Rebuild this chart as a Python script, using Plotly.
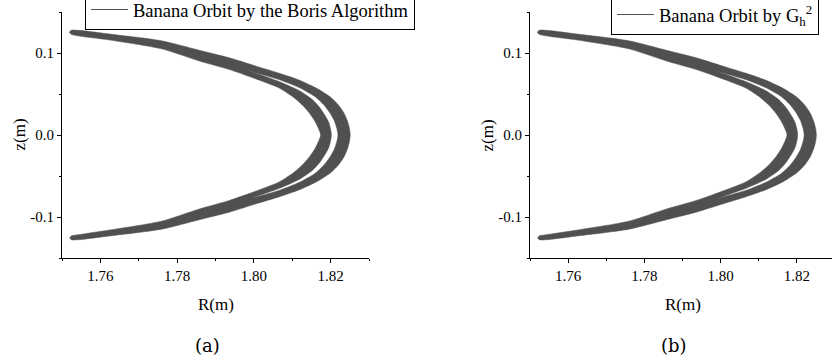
import plotly.graph_objects as go

# ---- data (R in m, z in m), ordered bottom tip -> nose -> top tip ----
TIP_R = 1.7520
TIP_Z = [-0.1252, 0.1252]

# outer band (convex side), outer edge
E1_R = [1.7524, 1.7629, 1.7759, 1.7858, 1.7936, 1.8015, 1.8067, 1.8119, 1.8166, 1.8200, 1.8221, 1.8235, 1.8244, 1.8249,
        1.8251,
        1.8249, 1.8244, 1.8235, 1.8221, 1.8200, 1.8166, 1.8119, 1.8067, 1.8015, 1.7936, 1.7858, 1.7759, 1.7629, 1.7524]
E1_Z = [-0.1277, -0.1228, -0.1149, -0.1033, -0.0941, -0.0826, -0.0752, -0.0667, -0.0563, -0.0460, -0.0362, -0.0265, -0.0167, -0.0082,
        0.0,
        0.0082, 0.0167, 0.0265, 0.0362, 0.0460, 0.0563, 0.0667, 0.0752, 0.0826, 0.0941, 0.1033, 0.1149, 0.1228, 0.1277]
# outer band, inner edge (gap side)
E2_R = [1.7524, 1.7629, 1.7759, 1.7858, 1.7936, 1.8009, 1.8067, 1.8119, 1.8158, 1.8181, 1.8197, 1.8209, 1.8216,
        1.8219,
        1.8216, 1.8209, 1.8197, 1.8181, 1.8158, 1.8119, 1.8067, 1.8009, 1.7936, 1.7858, 1.7759, 1.7629, 1.7524]
E2_Z = [-0.1246, -0.1179, -0.1082, -0.0948, -0.0850, -0.0752, -0.0673, -0.0576, -0.0472, -0.0374, -0.0277, -0.0179, -0.0082,
        0.0,
        0.0082, 0.0179, 0.0277, 0.0374, 0.0472, 0.0576, 0.0673, 0.0752, 0.0850, 0.0948, 0.1082, 0.1179, 0.1246]
# inner band, outer edge (gap side)
E3_R = [1.7524, 1.7629, 1.7759, 1.7858, 1.7936, 1.8009, 1.8067, 1.8119, 1.8153, 1.8171, 1.8185, 1.8195, 1.8200,
        1.8202,
        1.8200, 1.8195, 1.8185, 1.8171, 1.8153, 1.8119, 1.8067, 1.8009, 1.7936, 1.7858, 1.7759, 1.7629, 1.7524]
E3_Z = [-0.1265, -0.1204, -0.1112, -0.0978, -0.0874, -0.0746, -0.0649, -0.0539, -0.0429, -0.0338, -0.0240, -0.0155, -0.0070,
        0.0,
        0.0070, 0.0155, 0.0240, 0.0338, 0.0429, 0.0539, 0.0649, 0.0746, 0.0874, 0.0978, 0.1112, 0.1204, 0.1265]
# inner band, inner edge (concave side)
E4_R = [1.7524, 1.7629, 1.7759, 1.7858, 1.7936, 1.8015, 1.8067, 1.8103, 1.8127, 1.8145, 1.8159, 1.8168,
        1.8174,
        1.8168, 1.8159, 1.8145, 1.8127, 1.8103, 1.8067, 1.8015, 1.7936, 1.7858, 1.7759, 1.7629, 1.7524]
E4_Z = [-0.1228, -0.1155, -0.1051, -0.0902, -0.0798, -0.0667, -0.0570, -0.0460, -0.0362, -0.0265, -0.0167, -0.0082,
        0.0,
        0.0082, 0.0167, 0.0265, 0.0362, 0.0460, 0.0570, 0.0667, 0.0798, 0.0902, 0.1051, 0.1155, 0.1228]

X_TICKS = [1.76, 1.78, 1.80, 1.82]
X_TICK_TEXT = ["1.76", "1.78", "1.80", "1.82"]
Y_TICKS = [-0.1, 0.0, 0.1]
Y_TICK_TEXT = ["-0.1", "0.0", "0.1"]
NAMES = ["Banana Orbit by the Boris Algorithm", "Banana Orbit by G<sub>h</sub><sup>2</sup>"]
PANEL_LABELS = ["(a)", "(b)"]

W, H = 832, 364
ORBIT = "#505050"
SERIF = "Liberation Serif, Times New Roman, serif"


def band(outer_r, outer_z, inner_r, inner_z):
    r = [TIP_R] + outer_r + [TIP_R] + inner_r[::-1]
    z = [TIP_Z[0]] + outer_z + [TIP_Z[1]] + inner_z[::-1]
    return r, z


fig = go.Figure()

panels = [
    dict(xa="x", ya="y", xd=[62 / W, 369 / W], xr=[1.75, 1.83], leg="legend"),
    dict(xa="x2", ya="y2", xd=[530 / W, 1.0], xr=[1.75, 1.8292], leg="legend2"),
]

for i, p in enumerate(panels):
    for (a_r, a_z, b_r, b_z) in [(E1_R, E1_Z, E2_R, E2_Z), (E3_R, E3_Z, E4_R, E4_Z)]:
        r, z = band(a_r, a_z, b_r, b_z)
        fig.add_trace(go.Scatter(
            x=r, y=z, mode="lines", fill="toself", fillcolor=ORBIT,
            line=dict(color=ORBIT, width=0.5, shape="spline", smoothing=0.7),
            xaxis=p["xa"], yaxis=p["ya"], showlegend=False, hoverinfo="skip"))
    fig.add_trace(go.Scatter(
        x=[None], y=[None], mode="lines", name=NAMES[i],
        line=dict(color=ORBIT, width=1), xaxis=p["xa"], yaxis=p["ya"],
        legend=p["leg"], showlegend=True))

ydom = [1 - 258 / H, 1 - 12 / H]
axis_common = dict(
    showline=True, linecolor="black", linewidth=1, mirror=False,
    ticks="outside", ticklen=4, tickwidth=1, tickcolor="black",
    showgrid=False, zeroline=False,
    tickfont=dict(family=SERIF, size=15, color="black"),
)

for i, p in enumerate(panels):
    sx = "" if i == 0 else "2"
    fig.layout["xaxis" + sx] = dict(
        axis_common, domain=p["xd"], range=p["xr"], anchor="y" + sx,
        tickvals=X_TICKS, ticktext=X_TICK_TEXT,
        minor=dict(ticks="outside", ticklen=2, tickwidth=1, tickcolor="black", dtick=0.01, tick0=1.75),
    )
    fig.layout["yaxis" + sx] = dict(
        axis_common, domain=ydom, range=[-0.15, 0.15], anchor="x" + sx,
        tickvals=Y_TICKS, ticktext=Y_TICK_TEXT,
        minor=dict(ticks="outside", ticklen=2, tickwidth=1, tickcolor="black", dtick=0.05, tick0=-0.15),
    )

legend_common = dict(
    font=dict(family=SERIF, size=18.5, color="black"),
    bgcolor="white", bordercolor="black", borderwidth=1,
    xanchor="left", yanchor="bottom", itemwidth=37,
)
fig.update_layout(
    width=W, height=H, autosize=False,
    font=dict(family=SERIF, color="black"),
    margin=dict(l=0, r=0, t=0, b=0, autoexpand=False),
    paper_bgcolor="white", plot_bgcolor="white",
    legend=dict(legend_common, x=85 / W, y=1 - 30 / H),
    legend2=dict(legend_common, x=611 / W, y=1 - 35 / H),
)

ann = []
for i, off in enumerate([0, 468]):
    ann.append(dict(text="z(m)", x=(18.5 + off) / W, y=1 - 135 / H, textangle=-90,
                    font=dict(family=SERIF, size=17, color="black")))
    ann.append(dict(text="R(m)", x=(215.5 + off + (0 if i == 0 else -1)) / W, y=1 - 304 / H,
                    font=dict(family=SERIF, size=17, color="black")))
    ann.append(dict(text=PANEL_LABELS[i], x=(207 + off - 1 * i) / W, y=1 - 345 / H,
                    font=dict(family="DejaVu Serif, serif", size=18, color="black")))
for a in ann:
    a.update(xref="paper", yref="paper", xanchor="center", yanchor="middle", showarrow=False)
fig.update_layout(annotations=ann)

fig.write_html("out.html")
